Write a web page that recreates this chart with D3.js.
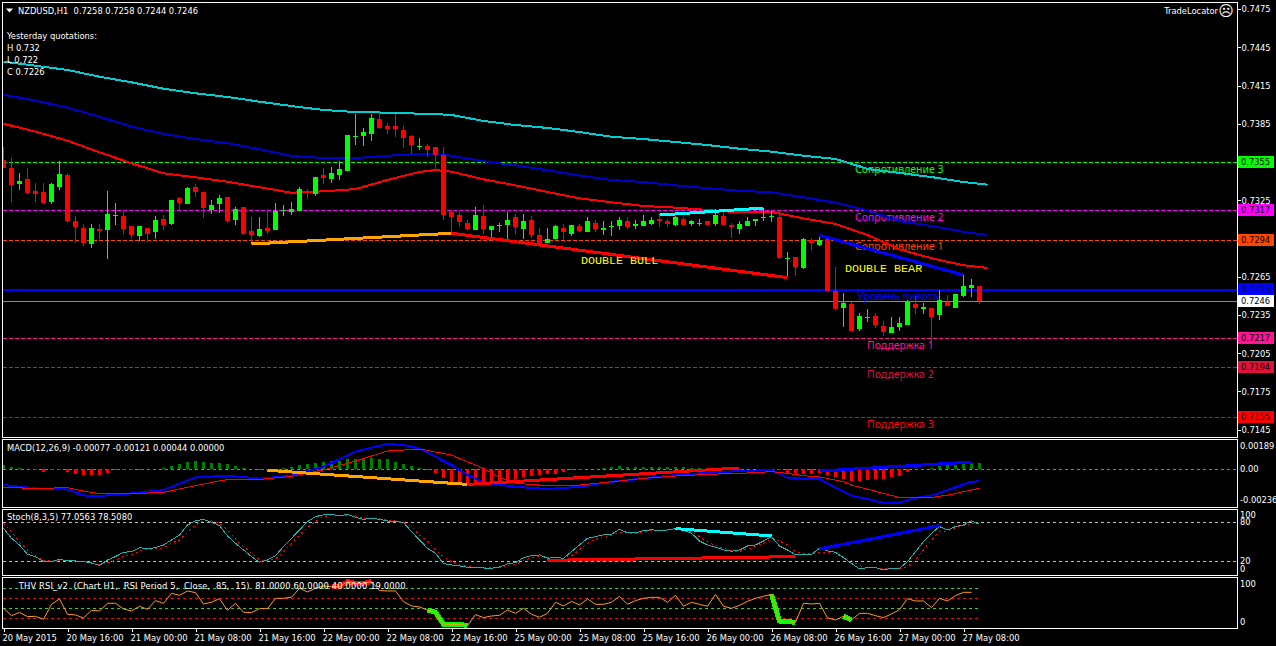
<!DOCTYPE html>
<html><head><meta charset="utf-8">
<script src="https://cdn.jsdelivr.net/npm/d3@7"></script>
<style>
html,body{margin:0;padding:0;background:#000;overflow:hidden}
svg{display:block}
text{font-family:"DejaVu Sans Condensed","Liberation Sans",sans-serif;font-size:9.25px;fill:#fff}
</style></head><body><div id="c"></div>
<script>
// Prices are in points (1 point = 0.00001)
const barOpen=[73566,73503,73377,73417,73323,73315,73236,73354,73448,73087,73032,72907,73025,73017,73127,73127,73048,72970,73032,73001,73103,73064,73268,73221,73354,73315,73174,73221,73276,73095,73197,73009,72970,73032,73017,73166,73158,73166,73323,73299,73448,73417,73448,73479,73746,73754,73770,73887,73832,73832,73801,73754,73668,73675,73668,73605,73158,73134,73072,73017,73127,73017,73048,73056,73119,73025,73095,72978,72915,72946,73032,72985,73048,73001,73072,73017,73040,73048,73087,73048,73048,73064,73103,73087,73056,73103,73064,73064,73087,73064,73127,73056,73025,73048,73087,73108,73116,73116,72789,72805,72719,72938,72899,72946,72538,72405,72436,72240,72327,72342,72264,72209,72256,72272,72436,72397,72405,72350,72452,72405,72499,72562,72580];
const barHigh=[73670,73579,73464,73503,73388,73388,73385,73555,73464,73127,73064,73064,73064,73323,73228,73166,73048,73048,73032,73127,73134,73252,73276,73354,73377,73315,73252,73291,73276,73197,73197,73119,73119,73181,73228,73213,73236,73354,73338,73432,73503,73511,73558,73762,73926,73817,73926,73934,73856,73926,73832,73762,73738,73691,73668,73668,73174,73158,73095,73197,73213,73048,73072,73158,73142,73142,73127,73032,73032,73056,73064,73056,73064,73119,73095,73087,73087,73119,73119,73095,73134,73119,73142,73103,73127,73119,73095,73103,73087,73181,73166,73072,73087,73119,73103,73187,73166,73161,72844,72805,72954,72954,72978,72954,72727,72523,72452,72366,72397,72366,72303,72334,72334,72468,72499,72444,72405,72546,72507,72515,72664,72632,72580];
const barLow=[73506,73239,73330,73299,73239,73221,73221,73330,73079,72915,72891,72876,72946,72789,73056,72985,72946,72930,72923,72946,73017,73056,73174,73221,73276,73111,73142,73150,73072,73056,72978,72899,72962,72985,73017,73127,73134,73166,73260,73283,73377,73385,73409,73479,73683,73675,73715,73809,73770,73746,73660,73613,73644,73589,73495,73095,72991,73048,73017,73017,72985,72946,73001,72946,72985,72946,72954,72899,72915,72946,72946,72970,73001,73001,73001,72978,72970,73017,73025,73025,73048,73056,73040,73040,73048,73056,73048,73048,73056,73048,73056,72954,72985,73048,73048,73087,73079,72789,72646,72656,72711,72860,72891,72531,72397,72256,72225,72225,72295,72248,72185,72209,72225,72272,72358,72358,72146,72311,72421,72405,72491,72491,72440];
const barClose=[73506,73370,73401,73307,73299,73228,73377,73456,73087,73040,72915,73032,73009,73142,73134,73025,72978,73048,72985,73095,73056,73252,73228,73346,73315,73189,73213,73268,73087,73181,72985,72978,73025,73009,73166,73174,73181,73338,73315,73432,73425,73464,73495,73762,73754,73785,73895,73817,73809,73809,73738,73683,73675,73644,73605,73134,73119,73079,73025,73134,73025,73048,73056,73095,73040,73087,72978,72907,72946,73048,73001,73056,73009,73087,73025,73032,73048,73095,73040,73064,73087,73095,73087,73064,73119,73056,73087,73072,73056,73134,73056,73040,73064,73087,73103,73116,73124,72797,72797,72727,72946,72915,72938,72538,72397,72444,72225,72342,72334,72272,72217,72256,72287,72452,72405,72413,72334,72468,72421,72515,72578,72585,72460];

// Moving averages, read at these bars
const maBars=[0,4,8,12,16,20,24,28,32,36,40,44,48,52,54,56,60,64,68,72,76,80,84,88,92,96,100,104,108,112,116,120,123];
const maCyan=[74337,74305,74272,74219,74175,74125,74089,74060,74023,73989,73958,73942,73937,73929,73926,73919,73872,73840,73817,73785,73748,73730,73707,73683,73654,73631,73599,73574,73495,73464,73432,73393,73372];
const maBlue=[74078,74031,73976,73905,73827,73770,73730,73697,73650,73597,73581,73581,73599,73613,73613,73599,73555,73524,73485,73443,73409,73393,73367,73344,73325,73312,73273,73231,73168,73087,73048,73003,72977];
const maRed=[73850,73788,73717,73626,73540,73461,73430,73395,73352,73309,73320,73338,73409,73472,73487,73474,73414,73367,73315,73265,73234,73205,73192,73174,73155,73158,73108,73064,72977,72865,72795,72740,72719];

const priceTicks=[0.7475,0.7445,0.7415,0.7385,0.7355,0.7325,0.7295,0.7265,0.7235,0.7205,0.7175,0.7145];
const levelValues=[73550,73170,72940,72550,72460,72170,71940,71550];
const levelTags=["0.7355","0.7317","0.7294","0.7255","0.7246","0.7217","0.7194","0.7155"];
const levelColors=["#00ff00","#ff00ff","#ff4500","#0000ff","#808b96","#ff1493","#dc143c","#ff0000"];
const levelTagFill=["#00ff00","#ff00ff","#ff4500","#0000ff","#ffffff","#ff1493","#dc143c","#ff0000"];
const levelNames=["Сопротивление 3","Сопротивление 2","Сопротивление 1","Уровень пивота","","Поддержка 1","Поддержка 2","Поддержка 3"];

// Trend lines as [bar, value] pairs
const priceTrends=[
 {c:"#ffa500",p:[[31,72907],[56,72991]]},
 {c:"#ff0000",p:[[56,72991],[98,72643]]},
 {c:"#00ffff",p:[[82,73134],[95,73189]]},
 {c:"#0000ff",p:[[102,72975],[120,72664]]}];

// MACD, in units of 0.00001
const macdHist=[28,15,6,2,-2,-15,-2,-2,-19,-30,-37,-37,-37,-22,-6,-6,-6,-2,2,4,9,22,32,45,52,47,43,43,32,22,6,4,-4,-4,2,6,15,28,32,39,47,52,56,67,67,71,73,69,65,47,34,19,6,-6,-22,-56,-86,-92,-101,-103,-97,-90,-82,-71,-60,-52,-45,-39,-32,-28,-19,-6,-2,2,4,9,13,19,17,17,17,17,15,15,17,13,11,9,6,6,6,6,4,2,2,2,2,-2,-22,-26,-30,-32,-22,-37,-47,-60,-73,-73,-69,-65,-60,-47,-43,-15,2,4,9,19,28,28,32,41,44];
const macdBars=[0,4,8,10,12,16,20,22,24,28,32,36,40,44,46,48,50,52,56,58,60,64,68,72,76,80,84,88,92,96,98,100,102,104,105,106,108,110,112,114,116,118,120,121,122];
const macdMain=[-101,-123,-129,-168,-172,-155,-133,-92,-52,-41,-60,-41,17,114,140,163,157,133,28,-37,-84,-112,-127,-112,-80,-58,-37,-22,-11,-4,-54,-60,-62,-118,-144,-170,-191,-215,-215,-183,-170,-133,-97,-80,-77];
const macdSigBars=[0,4,8,10,12,16,20,24,28,32,36,40,44,48,52,56,58,60,62,64,68,72,76,80,84,88,92,96,98,100,102,104,105,106,108,110,112,114,116,118,120,122];
const macdSignal=[-116,-123,-118,-140,-157,-157,-148,-105,-65,-65,-45,-4,54,118,131,92,49,6,-52,-90,-105,-101,-80,-58,-43,-32,-26,-15,-26,-41,-49,-69,-80,-101,-127,-155,-181,-181,-181,-166,-144,-121];
const macdTrends=[
 {c:"#ffa500",p:[[33,-6],[58,-97]]},
 {c:"#ff0000",p:[[58,-97],[92,9]]},
 {c:"#0000ff",p:[[102,-11],[121,47]]}];
const macdLabels=["0.00189","0.00","-0.00236"];

// Stochastic
const stochMain=[70.8,55.4,45.1,30.8,27.2,19.5,19.5,23.1,20.5,20.5,19.5,17.4,13.8,22.1,27.2,33.8,34.9,41.0,39.0,41.0,45.1,52.8,60.5,75.9,82.1,84.6,80.0,74.9,59.0,47.7,37.4,27.2,18.5,22.1,28.7,42.6,55.4,68.2,81.1,88.7,91.3,92.3,89.8,92.3,87.7,84.6,86.2,84.6,82.1,81.1,79.5,65.7,52.8,40.0,32.3,16.4,14.4,12.8,10.8,9.7,9.7,9.2,11.3,15.9,18.0,25.6,28.7,29.8,24.6,26.2,24.6,34.9,45.1,55.4,58.0,60.5,61.6,69.3,63.6,63.6,67.2,68.7,67.2,68.2,70.3,67.2,63.1,51.3,45.1,41.6,37.4,35.4,37.4,43.6,45.1,51.3,58.0,43.6,37.4,29.8,30.8,30.8,40.0,35.9,33.9,25.6,16.9,8.2,10.3,10.3,6.7,9.2,9.2,19.5,34.9,50.3,63.1,73.4,68.2,73.4,75.9,82.1,77.06];
const stochSignal=[78.5,65.7,49.2,37.4,28.7,20.5,20.5,21.5,20.5,21.0,19.5,18.0,15.4,17.4,22.1,27.2,29.8,35.9,38.5,39.0,41.0,47.7,52.8,64.6,75.9,82.1,82.1,78.5,68.2,54.4,42.6,32.3,22.1,20.5,23.6,34.9,47.7,60.5,71.8,81.1,88.7,91.3,90.3,91.3,89.8,86.2,86.2,85.2,83.1,82.1,80.5,73.4,60.5,51.3,37.4,27.2,19.5,14.4,12.3,10.8,9.7,9.7,10.3,13.8,15.4,20.5,26.2,27.7,26.2,25.6,24.6,28.7,37.4,47.7,54.4,58.0,60.0,64.6,63.6,62.6,65.7,67.2,66.7,67.7,69.3,68.2,64.6,58.0,50.3,44.1,40.0,35.9,35.4,39.0,42.6,47.7,55.4,51.3,45.1,34.9,31.8,31.3,33.9,33.3,30.8,27.2,21.0,13.3,10.3,10.3,8.7,9.2,9.2,11.8,22.1,37.4,52.8,65.7,66.7,71.8,74.9,78.5,78.5];
const stochLevels=[80,20];
const stochLabels=["100","80","20","0"];
const stochTrends=[
 {c:"#ff0000",p:[[68,21.5],[99,27.2]]},
 {c:"#00ffff",p:[[84,70.3],[96,59.0]]},
 {c:"#0000ff",p:[[102,39.0],[117,74.9]]}];

// THV RSI
const rsiLine=[39.7,24.5,31.4,22.5,23.1,16.9,47.9,59.0,27.3,25.9,19.7,35.5,34.2,50.0,50.0,38.3,34.2,43.8,37.6,55.5,50.0,70.7,66.5,75.5,72.0,48.6,52.1,59.6,35.5,50.0,31.4,30.7,39.0,39.0,60.3,60.3,62.4,81.0,73.4,81.0,85.8,84.4,84.4,94.8,91.3,91.3,94.8,76.2,75.5,75.5,53.4,44.5,42.4,36.2,31.4,6.6,6.6,6.6,3.9,26.6,20.4,23.8,25.2,36.2,29.3,39.7,27.3,21.1,29.3,52.1,44.5,54.1,46.6,59.0,47.9,47.9,52.1,64.5,47.9,55.5,60.3,62.4,62.4,52.1,66.5,43.8,52.1,47.9,43.8,68.6,43.8,39.7,45.9,54.1,60.3,64.5,68.6,12.8,12.1,10.7,50.0,48.6,50.0,19.7,15.6,23.1,15.6,29.3,29.3,24.5,20.4,28.0,36.9,59.6,54.8,54.8,41.0,60.3,54.8,65.8,72.7,72.7];
const rsiLevels=[81,60,40,19];
const rsiLevelColors=["#32cd32","#ff0000","#32cd32","#ff0000"];
const rsiLabels=["100","0"];
const rsiHighlights=[
 {c:"#ff0000",from:41,to:46},
 {c:"#00ff00",from:53,to:58},
 {c:"#00ff00",from:96,to:99},
 {c:"#00ff00",from:105,to:106}];

const timeBars=[0,8,16,24,32,40,48,56,64,72,80,88,96,104,112,120];
const timeLabels=["20 May 2015","20 May 16:00","21 May 00:00","21 May 08:00","21 May 16:00","22 May 00:00","22 May 08:00","22 May 16:00","25 May 00:00","25 May 08:00","25 May 16:00","26 May 00:00","26 May 08:00","26 May 16:00","27 May 00:00","27 May 08:00"];

const title="NZDUSD,H1  0.7258 0.7258 0.7244 0.7246";
const quotes=["Yesterday quotations:","H 0.732","L 0.722","C 0.7226"];

const W=1276,H=646,R=1237;
const svg=d3.select("#c").append("svg").attr("width",W).attr("height",H).style("background","#000");
const x=d3.scaleLinear().domain([0,122]).range([3.5,979.5]);
const yP=d3.scaleLinear().domain([74805,71393]).range([2,437]);
const yM=d3.scaleLinear().domain([189,-236]).range([440,506]);
const yS=d3.scaleLinear().domain([0,100]).range([574.3,509.3]);
const yR=d3.scaleLinear().domain([0,100]).range([627.5,579.1]);

function panel(top,bot){svg.append("rect").attr("x",2.5).attr("y",top+.5).attr("width",R-2).attr("height",bot-top)
  .attr("fill","#000").attr("stroke","#fff").attr("shape-rendering","crispEdges");}
panel(2,437);panel(439,507);panel(509,575);panel(577,628);

function clip(id,top,bot){svg.append("clipPath").attr("id",id).append("rect").attr("x",3).attr("y",top).attr("width",R-3).attr("height",bot-top);
  return svg.append("g").attr("clip-path",`url(#${id})`);}
const gP=clip("cp",3,437),gM=clip("cm",440,507),gS=clip("cs",510,575),gR=clip("cr",578,628);

const mkLine=(y,xs)=>d3.line().x((d,i)=>x(xs?xs[i]:i)).y(d=>y(d));
const pairLine=y=>d3.line().x(d=>x(d[0])).y(d=>y(d[1]));
function path(g,d,c,w,dash,crisp=true){return g.append("path").attr("d",d).attr("fill","none").attr("stroke",c).attr("stroke-width",w)
  .attr("stroke-dasharray",dash||null).attr("shape-rendering",crisp?"crispEdges":"auto");}
const hline=(g,y,c,x2,dash,w=1)=>g.append("line").attr("x1",3).attr("x2",x2).attr("y1",Math.round(y)+.5).attr("y2",Math.round(y)+.5)
  .attr("stroke",c).attr("stroke-width",w).attr("stroke-dasharray",dash||null).attr("shape-rendering","crispEdges");

/* ---------- main price panel ---------- */
levelValues.forEach((v,i)=>hline(gP,yP(v),levelColors[i],R,(i===3||i===4)?null:"4,2",i===3?2:1));

const nameX=[855,855,855,857,0,867,867,867],nameDy=[7,7,7,7,0,7,7,7];
levelNames.forEach((t,i)=>{if(t)gP.append("text").attr("x",nameX[i]).attr("y",yP(levelValues[i])+nameDy[i]).attr("dy","0.35em")
  .style("fill",levelColors[i]).style("font-family","'Noto Sans'").style("font-size","10.5px").text(t);});

path(gP,mkLine(yP,maBars)(maCyan),"#00ced1",2);
path(gP,mkLine(yP,maBars)(maBlue),"#0000cd",2);
path(gP,mkLine(yP,maBars)(maRed),"#ff0000",2);

const candles=d3.range(barOpen.length);
const col=i=>barClose[i]>=barOpen[i]?"#00ff00":"#ff0000";
gP.selectAll("rect.w").data(candles).join("rect").attr("class","w").attr("x",i=>x(i)-.5).attr("width",1)
  .attr("y",i=>yP(barHigh[i])).attr("height",i=>yP(barLow[i])-yP(barHigh[i])).attr("fill",col).attr("shape-rendering","crispEdges");
gP.selectAll("rect.b").data(candles).join("rect").attr("class","b").attr("x",i=>x(i)-2.5).attr("width",5)
  .attr("y",i=>yP(Math.max(barOpen[i],barClose[i]))).attr("height",i=>Math.max(1,Math.abs(yP(barOpen[i])-yP(barClose[i])))).attr("fill",col).attr("shape-rendering","crispEdges");

priceTrends.forEach(t=>path(gP,pairLine(yP)(t.p),t.c,3));

const mono=(tx,ty,s)=>gP.append("text").attr("x",tx).attr("y",ty).attr("dy","0.35em").style("font-family","'Liberation Mono',monospace").style("font-size","11.7px").style("fill","#ffff00").text(s);
mono(581,260,"DOUBLE BULL");mono(845,268,"DOUBLE BEAR");

svg.append("path").attr("d","M6 8.5h7l-3.5 4z").attr("fill","#fff");
svg.append("text").attr("x",18).attr("y",10.5).attr("dy","0.35em").style("white-space","pre").text(title);
quotes.forEach((q,i)=>svg.append("text").attr("x",7).attr("y",35.5+12*i).attr("dy","0.35em").text(q));
svg.append("text").attr("x",1218).attr("y",11).attr("dy","0.35em").attr("text-anchor","end").text("TradeLocator");
svg.append("text").attr("x",1226).attr("y",11).attr("dy","0.35em").attr("text-anchor","middle").style("font-family","'DejaVu Sans'").style("font-size","15px").text("\u2639");

const axP=svg.append("g").attr("transform",`translate(${R+.5},0)`).call(d3.axisRight(d3.scaleLinear().domain(yP.domain().map(d=>d/1e5)).range(yP.range()))
  .tickValues(priceTicks).tickSize(3).tickPadding(1).tickFormat(d3.format(".4f")));
axP.select(".domain").remove();axP.selectAll("line").attr("stroke","#fff").attr("shape-rendering","crispEdges");

levelValues.forEach((v,i)=>{const yy=Math.round(yP(v));
  svg.append("rect").attr("x",1238).attr("y",yy-6).attr("width",36).attr("height",12).attr("fill",levelTagFill[i]).attr("shape-rendering","crispEdges");
  svg.append("text").attr("x",1241).attr("y",yy).attr("dy","0.35em").style("fill","#000").text(levelTags[i]);});

/* ---------- MACD ---------- */
hline(gM,yM(0),"#808080",R,"3,3");
gM.selectAll("rect").data(macdHist).join("rect").attr("x",(d,i)=>x(i)-1.5).attr("width",3)
  .attr("y",d=>d>0?yM(d):yM(0)).attr("height",d=>Math.abs(yM(d)-yM(0))).attr("fill",d=>d>0?"#007f00":"#ff0000").attr("shape-rendering","crispEdges");
path(gM,mkLine(yM,macdBars)(macdMain),"#0000ff",2);
path(gM,mkLine(yM,macdSigBars)(macdSignal),"#ff0000",1);
macdTrends.forEach(t=>path(gM,pairLine(yM)(t.p),t.c,3));
svg.append("text").attr("x",7).attr("y",448).attr("dy","0.35em").text("MACD(12,26,9) -0.00077 -0.00121 0.00044 0.00000");
[446,468.5,499.5].forEach((ty,i)=>svg.append("text").attr("x",1240).attr("y",ty).attr("dy","0.35em").text(macdLabels[i]));

/* ---------- Stochastic ---------- */
stochLevels.forEach(l=>hline(gS,yS(l),"#c0c0c0",R,"3,3"));
path(gS,mkLine(yS)(stochSignal),"#ff0000",1,"2,3");
path(gS,mkLine(yS)(stochMain),"#20b2aa",1);
stochTrends.forEach(t=>path(gS,pairLine(yS)(t.p),t.c,3));
svg.append("text").attr("x",7).attr("y",517).attr("dy","0.35em").text("Stoch(8,3,5) 77.0563 78.5080");
[515,522,561,569].forEach((ty,i)=>svg.append("text").attr("x",1240).attr("y",ty).attr("dy","0.35em").text(stochLabels[i]));

/* ---------- RSI ---------- */
rsiLevels.forEach((l,i)=>hline(gR,yR(l),rsiLevelColors[i],x(122),"3,3"));
rsiHighlights.forEach(h=>{const bars=d3.range(h.from,h.to+1);
  path(gR,mkLine(yR,bars)(bars.map(b=>rsiLine[b])),h.c,5).attr("stroke-linejoin","round");});
path(gR,mkLine(yR)(rsiLine),"#ff9a1f",1,null,false);
svg.append("text").attr("x",16).attr("y",586).attr("dy","0.35em").style("white-space","pre").style("letter-spacing","0.16px").text(" THV RSI_v2  (Chart H1,  RSI Period 5,  Close,  85,  15)  81.0000 60.0000 40.0000 19.0000");
[584,621.7].forEach((ty,i)=>svg.append("text").attr("x",1240).attr("y",ty).attr("dy","0.35em").text(rsiLabels[i]));

/* ---------- time axis ---------- */
const axT=svg.append("g").attr("transform","translate(0,628.5)").call(d3.axisBottom(x).tickValues(timeBars).tickSize(3).tickPadding(3).tickFormat((d,i)=>timeLabels[i]));
axT.select(".domain").remove();axT.selectAll("line").attr("stroke","#fff").attr("shape-rendering","crispEdges");
axT.selectAll("text").attr("text-anchor","start").attr("x",-1.5);
</script></body></html>
